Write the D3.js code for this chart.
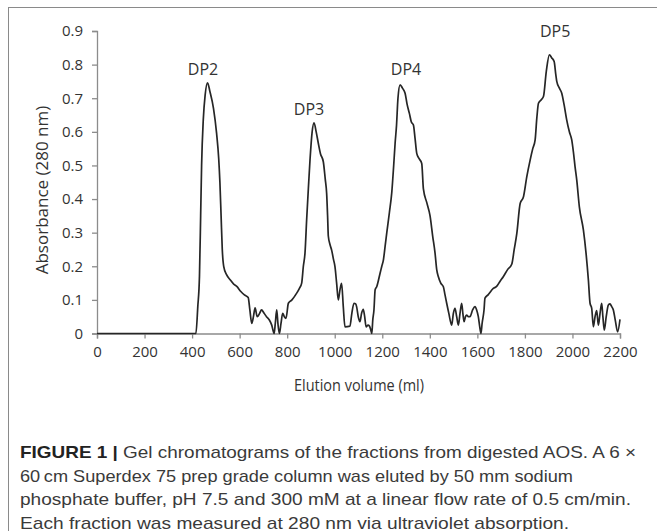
<!DOCTYPE html>
<html>
<head>
<meta charset="utf-8">
<script src="https://cdn.jsdelivr.net/npm/d3@7"></script>
<style>
  body { margin: 0; background: #fff; }
  svg { display: block; }
</style>
</head>
<body>
<div id="svg-container"></div>
<script>
// elution volume (ml) and absorbance at 280 nm
var volumes = [0, 400, 416, 424, 431, 436, 440, 447, 455, 465, 475, 490, 503, 512, 517, 522, 527, 533,
  545, 560, 575, 588, 605, 620, 636, 643, 651, 658, 665, 674, 684, 692, 703, 713, 725, 735, 745, 750,
  756, 761, 767, 774, 781, 788, 795, 805, 820, 840, 852, 861, 868, 875, 882, 889, 896, 905, 913, 922,
  931, 940, 952, 960, 966, 970, 973, 980, 987, 995, 1001, 1008, 1015, 1022, 1029, 1036, 1043, 1064,
  1072, 1081, 1088, 1092, 1099, 1106, 1113, 1120, 1126, 1132, 1140, 1146, 1152, 1156, 1160, 1165,
  1170, 1177, 1191, 1198, 1205, 1212, 1219, 1230, 1240, 1248, 1254, 1260, 1266, 1275, 1285, 1296,
  1305, 1314, 1322, 1331, 1338, 1345, 1355, 1366, 1373, 1387, 1401, 1412, 1422, 1429, 1436, 1446,
  1457, 1464, 1471, 1480, 1492, 1499, 1506, 1513, 1520, 1527, 1534, 1539, 1544, 1550, 1555, 1562,
  1569, 1580, 1590, 1597, 1604, 1610, 1615, 1620, 1628, 1632, 1645, 1667, 1681, 1695, 1709, 1727,
  1745, 1755, 1766, 1780, 1794, 1808, 1822, 1833, 1843, 1850, 1857, 1868, 1878, 1890, 1903, 1913,
  1923, 1930, 1934, 1945, 1955, 1965, 1976, 1987, 1997, 2004, 2011, 2018, 2029, 2046, 2057, 2067,
  2074, 2081, 2088, 2095, 2102, 2109, 2116, 2123, 2128, 2134, 2142, 2151, 2158, 2165, 2172, 2180,
  2190, 2200];
var absorbance = [0, 0, 0, 0.08, 0.17, 0.35, 0.5, 0.635, 0.71, 0.746, 0.72, 0.67, 0.596, 0.52, 0.45,
  0.35, 0.25, 0.2, 0.175, 0.16, 0.147, 0.14, 0.125, 0.115, 0.107, 0.07, 0.03, 0.05, 0.076, 0.05, 0.06,
  0.07, 0.06, 0.05, 0.04, 0.025, 0, 0.03, 0.07, 0.03, 0, 0.03, 0.06, 0.05, 0.045, 0.09, 0.1, 0.12,
  0.135, 0.15, 0.2, 0.24, 0.34, 0.43, 0.516, 0.6, 0.627, 0.6, 0.566, 0.535, 0.511, 0.46, 0.417, 0.35,
  0.29, 0.265, 0.248, 0.22, 0.199, 0.15, 0.1, 0.13, 0.149, 0.08, 0.02, 0.022, 0.06, 0.09, 0.088, 0.08,
  0.05, 0.035, 0.06, 0.072, 0.05, 0.02, 0.025, 0.022, 0.01, 0, 0.04, 0.07, 0.13, 0.14, 0.18, 0.2,
  0.22, 0.26, 0.3, 0.36, 0.42, 0.5, 0.566, 0.62, 0.7, 0.74, 0.73, 0.715, 0.68, 0.655, 0.63, 0.62, 0.58,
  0.536, 0.52, 0.506, 0.43, 0.39, 0.35, 0.29, 0.239, 0.19, 0.169, 0.15, 0.139, 0.115, 0.09, 0.06,
  0.025, 0.06, 0.075, 0.05, 0.025, 0.06, 0.09, 0.06, 0.035, 0.05, 0.055, 0.05, 0.05, 0.07, 0.08, 0.07,
  0.05, 0.02, 0, 0.03, 0.07, 0.105, 0.115, 0.134, 0.14, 0.155, 0.169, 0.19, 0.207, 0.25, 0.298, 0.387,
  0.407, 0.467, 0.516, 0.55, 0.576, 0.64, 0.685, 0.695, 0.705, 0.78, 0.829, 0.82, 0.809, 0.77, 0.75,
  0.73, 0.715, 0.68, 0.635, 0.6, 0.576, 0.54, 0.496, 0.457, 0.377, 0.308, 0.24, 0.159, 0.09, 0.075,
  0.02, 0.05, 0.068, 0.025, 0.06, 0.09, 0.05, 0.01, 0.05, 0.085, 0.088, 0.08, 0.07, 0.04, 0.005, 0.042];

var peakNames = ["DP2", "DP3", "DP4", "DP5"];
var peakVolumes = [446, 892, 1300, 1927];
var peakLabelAbs = [0.769, 0.65, 0.769, 0.882];

var xTicks = [0, 200, 400, 600, 800, 1000, 1200, 1400, 1600, 1800, 2000, 2200];
var yTicks = [0, 0.1, 0.2, 0.3, 0.4, 0.5, 0.6, 0.7, 0.8, 0.9];

var captionLines = [
  ["FIGURE 1 |", " Gel chromatograms of the fractions from digested AOS. A 6 \u00d7"],
  ["", "60\u2009cm Superdex 75 prep grade column was eluted by 50 mm sodium"],
  ["", "phosphate buffer, pH 7.5 and 300 mM at a linear flow rate of 0.5 cm/min."],
  ["", "Each fraction was measured at 280 nm via ultraviolet absorption."]
];
var captionWidths = [616, 553, 611, 549];

(function () {
  var width = 657, height = 531;
  var left = 97, right = 620, top = 31, bottom = 333.5;
  var axisColor = "#8c8c8c", textColor = "#333";
  var font = "'Open Sans', sans-serif";

  var svg = d3.select("#svg-container")
    .append("svg")
    .attr("width", width)
    .attr("height", height)
    .attr("viewBox", "0 0 " + width + " " + height);

  svg.append("rect")
    .attr("width", width).attr("height", height)
    .attr("fill", "#fff");

  // figure frame
  svg.append("rect")
    .attr("x", 8.5).attr("y", 7.5)
    .attr("width", 700).attr("height", 600)
    .attr("fill", "none")
    .attr("stroke", "#8a8a8a")
    .attr("stroke-width", 1);

  var x = d3.scaleLinear().domain([0, 2200]).range([left, right]);
  var y = d3.scaleLinear().domain([0, 0.9]).range([bottom, top]);

  var xAxis = svg.append("g")
    .attr("transform", "translate(0," + bottom + ")")
    .call(d3.axisBottom(x).tickValues(xTicks).tickSize(5).tickPadding(8).tickFormat(d3.format("d")));

  var yAxis = svg.append("g")
    .attr("transform", "translate(" + left + ",0)")
    .call(d3.axisLeft(y).tickValues(yTicks).tickSize(5).tickPadding(9).tickFormat(function (d) {
      return d === 0 ? "0" : d3.format(".1f")(d);
    }));

  [xAxis, yAxis].forEach(function (g) {
    g.select(".domain").attr("stroke", axisColor).attr("stroke-width", 1.3);
    g.selectAll(".tick line").attr("stroke", axisColor).attr("stroke-width", 1.3);
    g.selectAll(".tick text")
      .attr("fill", textColor)
      .style("font-family", font)
      .style("font-size", "15px");
  });

  var points = volumes.map(function (v, i) { return {v: v, a: absorbance[i]}; });

  var line = d3.line()
    .x(function (d) { return x(d.v); })
    .y(function (d) { return y(d.a); })
    .curve(d3.curveMonotoneX);

  svg.append("path")
    .datum(points)
    .attr("d", line)
    .attr("fill", "none")
    .attr("stroke", "#262626")
    .attr("stroke-width", 1.7)
    .attr("stroke-linejoin", "round");

  svg.selectAll(".peakLabel")
    .data(peakNames)
    .enter()
    .append("text")
    .attr("class", "peakLabel")
    .attr("x", function (d, i) { return x(peakVolumes[i]); })
    .attr("y", function (d, i) { return y(peakLabelAbs[i]); })
    .attr("text-anchor", "middle")
    .attr("fill", textColor)
    .style("font-family", font)
    .style("font-size", "16px")
    .text(function (d) { return d; });

  svg.append("text")
    .attr("x", 359)
    .attr("y", 391)
    .attr("text-anchor", "middle")
    .attr("textLength", 130)
    .attr("lengthAdjust", "spacingAndGlyphs")
    .attr("fill", textColor)
    .style("font-family", font)
    .style("font-size", "16.5px")
    .text("Elution volume (ml)");

  svg.append("text")
    .attr("transform", "translate(48,190) rotate(-90)")
    .attr("text-anchor", "middle")
    .attr("fill", textColor)
    .style("font-family", font)
    .style("font-size", "17px")
    .text("Absorbance (280 nm)");

  var caption = svg.append("g");
  captionLines.forEach(function (parts, i) {
    var t = caption.append("text")
      .attr("x", 20)
      .attr("y", 458 + i * 23.5)
      .attr("textLength", captionWidths[i])
      .attr("lengthAdjust", "spacingAndGlyphs")
      .attr("fill", "#3a3a3a")
      .style("font-family", "'Liberation Sans', Arial, sans-serif")
      .style("font-size", "17px");
    if (parts[0]) {
      t.append("tspan").style("font-weight", "bold").attr("fill", "#222").text(parts[0]);
    }
    t.append("tspan").text(parts[1]);
  });
}());
</script>
</body>
</html>
